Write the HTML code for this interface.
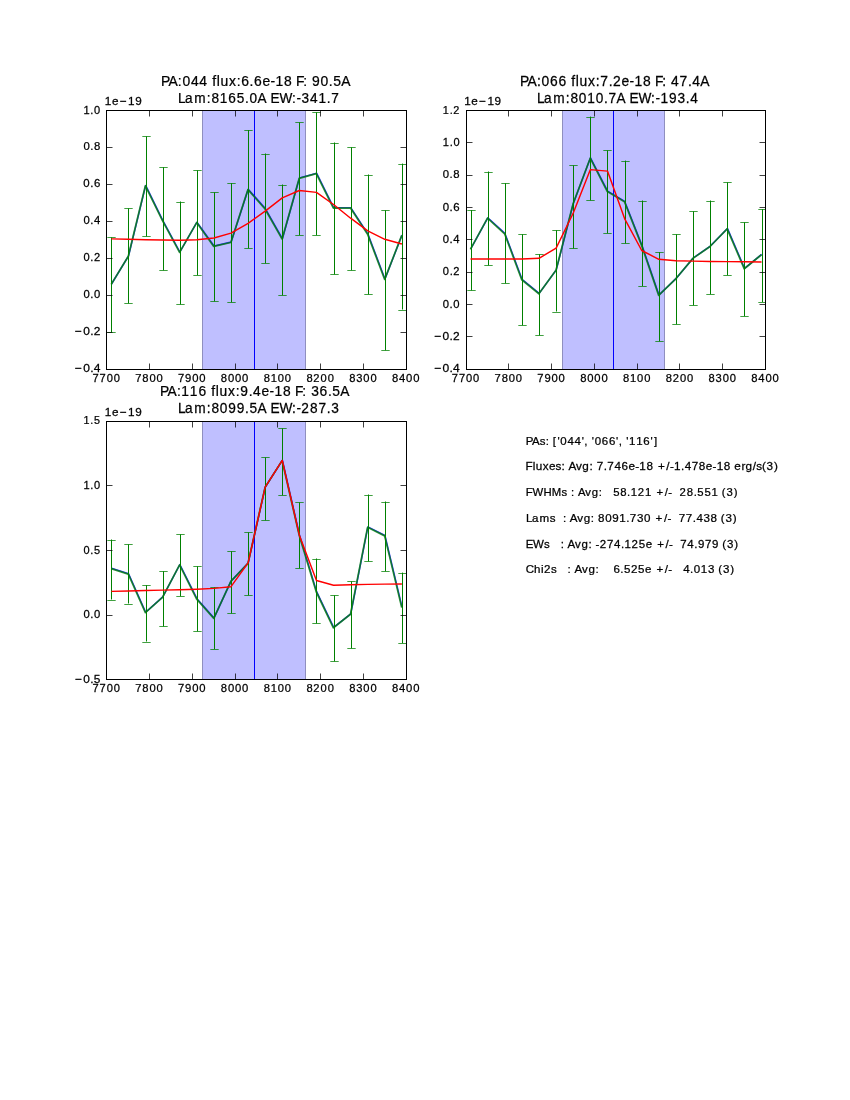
<!DOCTYPE html>
<html><head><meta charset="utf-8"><title>Spectral line fits</title>
<style>
html,body{margin:0;padding:0;background:#fff;width:850px;height:1100px;overflow:hidden;}
svg{display:block;will-change:transform;}
text{font-family:"Liberation Sans",sans-serif;fill:#000;font-kerning:none;white-space:pre;stroke:#000;stroke-width:0.25px;}
</style></head><body>
<svg width="850" height="1100" viewBox="0 0 850 1100">
<rect width="850" height="1100" fill="#fff"/>
<g id="ax1">
<clipPath id="cp1"><rect x="106.50" y="110.50" width="300.00" height="259.00"/></clipPath>
<g clip-path="url(#cp1)">
<rect x="202" y="110.5" width="104" height="259.0" fill="#bfbfff"/>
<path d="M202.5 110.5V369.5M305.5 110.5V369.5" stroke="#000" stroke-opacity="0.25" stroke-width="1" fill="none"/>
<path d="M254.5 110.5V369.5" stroke="#00f" stroke-width="1" fill="none"/>
<polyline points="111.51,284.00 128.60,255.80 145.69,185.40 162.78,220.30 179.88,252.00 196.97,222.20 214.06,246.00 231.15,242.10 248.24,189.20 265.33,208.60 282.42,238.70 299.51,177.90 316.61,173.20 333.70,207.70 350.79,207.70 367.88,233.80 384.97,279.00 402.06,235.00" fill="none" stroke="#0000ff" stroke-opacity="0.8" stroke-width="1.5" stroke-linejoin="round"/>
<polyline points="111.21,284.40 128.30,256.20 145.39,185.80 162.48,220.70 179.58,252.40 196.67,222.60 213.76,246.40 230.85,242.50 247.94,189.60 265.03,209.00 282.12,239.10 299.21,178.30 316.31,173.60 333.40,208.10 350.49,208.10 367.58,234.20 384.67,279.40 401.76,235.40" fill="none" stroke="#008000" stroke-opacity="0.78" stroke-width="1.75" stroke-linejoin="round"/>
<path d="M111.5 237.40V332.40M128.5 208.40V303.40M146.5 136.40V236.40M163.5 167.20V270.30M180.5 201.50V304.40M197.5 170.40V275.20M214.5 192.40V301.40M231.5 183.20V302.30M248.5 130.10V248.30M265.5 153.50V263.30M282.5 184.50V295.30M299.5 122.40V235.20M316.5 112.40V235.20M334.5 142.50V274.40M351.5 147.40V270.30M368.5 174.50V294.40M385.5 210.30V350.30M402.5 163.60V309.50" stroke="#008000" stroke-width="1" fill="none"/>
<path d="M107.30 237.50H115.70M107.30 332.50H115.70M124.30 208.50H132.70M124.30 303.50H132.70M142.30 136.50H150.70M142.30 236.50H150.70M159.30 167.50H167.70M159.30 270.50H167.70M176.30 202.50H184.70M176.30 304.50H184.70M193.30 170.50H201.70M193.30 275.50H201.70M210.30 192.50H218.70M210.30 301.50H218.70M227.30 183.50H235.70M227.30 302.50H235.70M244.30 130.50H252.70M244.30 248.50H252.70M261.30 154.50H269.70M261.30 263.50H269.70M278.30 185.50H286.70M278.30 295.50H286.70M295.30 122.50H303.70M295.30 235.50H303.70M312.30 112.50H320.70M312.30 235.50H320.70M330.30 143.50H338.70M330.30 274.50H338.70M347.30 147.50H355.70M347.30 270.50H355.70M364.30 175.50H372.70M364.30 294.50H372.70M381.30 210.50H389.70M381.30 350.50H389.70M398.30 164.50H406.70M398.30 310.50H406.70" stroke="#008000" stroke-width="0.75" fill="none"/>
<polyline points="111.36,238.90 128.45,239.30 145.54,239.70 162.63,240.00 179.73,240.20 196.82,239.70 213.91,238.00 231.00,233.10 248.09,223.30 265.18,211.10 282.27,197.90 299.36,190.50 316.46,192.40 333.55,204.50 350.64,218.20 367.73,230.80 384.82,239.30 401.91,244.00" fill="none" stroke="#ff0000" stroke-width="1.45" stroke-linejoin="round"/>
</g>
<rect x="106.5" y="110.5" width="300.0" height="259.0" fill="none" stroke="#000" stroke-width="1"/>
<path d="M106.5 369.5v-6.00M106.5 110.5v6.00M149.5 369.5v-6.00M149.5 110.5v6.00M192.5 369.5v-6.00M192.5 110.5v6.00M235.5 369.5v-6.00M235.5 110.5v6.00M277.5 369.5v-6.00M277.5 110.5v6.00M320.5 369.5v-6.00M320.5 110.5v6.00M363.5 369.5v-6.00M363.5 110.5v6.00M406.5 369.5v-6.00M406.5 110.5v6.00M106.5 110.5h6.00M406.5 110.5h-6.00M106.5 147.5h6.00M406.5 147.5h-6.00M106.5 184.5h6.00M406.5 184.5h-6.00M106.5 221.5h6.00M406.5 221.5h-6.00M106.5 258.5h6.00M406.5 258.5h-6.00M106.5 295.5h6.00M406.5 295.5h-6.00M106.5 332.5h6.00M406.5 332.5h-6.00M106.5 369.5h6.00M406.5 369.5h-6.00" stroke="#000" stroke-width="0.75" fill="none"/>
<text x="94.83 102.07 109.34 116.58" y="382.00" font-size="11.40" transform="scale(0.9757,1)" xml:space="preserve">7700</text>
<text x="137.52 144.73 151.92 159.10" y="382.00" font-size="11.40" transform="scale(0.9837,1)" xml:space="preserve">7800</text>
<text x="180.02 187.15 194.33 201.48" y="382.00" font-size="11.40" transform="scale(0.9890,1)" xml:space="preserve">7900</text>
<text x="223.32 230.47 237.62 244.77" y="382.00" font-size="11.40" transform="scale(0.9889,1)" xml:space="preserve">8000</text>
<text x="269.40 276.57 283.84 291.07" y="382.00" font-size="11.40" transform="scale(0.9786,1)" xml:space="preserve">8100</text>
<text x="312.58 319.64 327.00 334.22" y="382.00" font-size="11.40" transform="scale(0.9803,1)" xml:space="preserve">8200</text>
<text x="356.64 363.88 371.08 378.30" y="382.00" font-size="11.40" transform="scale(0.9791,1)" xml:space="preserve">8300</text>
<text x="396.36 403.50 410.65 417.80" y="382.00" font-size="11.40" transform="scale(0.9889,1)" xml:space="preserve">8400</text>
<text x="86.04 93.14 97.02" y="114.00" font-size="11.40" transform="scale(0.9697,1)" xml:space="preserve">1.0</text>
<text x="83.96 90.87 94.63" y="150.00" font-size="11.40" transform="scale(0.9934,1)" xml:space="preserve">0.8</text>
<text x="83.04 89.90 93.60" y="187.00" font-size="11.40" transform="scale(1.0040,1)" xml:space="preserve">0.6</text>
<text x="84.38 91.33 95.10" y="224.00" font-size="11.40" transform="scale(0.9886,1)" xml:space="preserve">0.4</text>
<text x="85.80 92.83 96.54" y="261.00" font-size="11.40" transform="scale(0.9729,1)" xml:space="preserve">0.2</text>
<text x="84.38 91.33 95.10" y="298.00" font-size="11.40" transform="scale(0.9886,1)" xml:space="preserve">0.0</text>
<text x="71.48 79.46 86.10 89.44" y="335.00" font-size="11.40" transform="scale(1.0475,1)" xml:space="preserve">−0.2</text>
<text x="70.88 78.79 85.40 88.83" y="372.00" font-size="11.40" transform="scale(1.0560,1)" xml:space="preserve">−0.4</text>
<text x="102.01 108.86 116.53 124.60 131.50" y="105.00" font-size="11.40" transform="scale(1.0278,1)" xml:space="preserve">1e−19</text>
<text x="163.41 171.02 180.43 185.04 193.64 202.25 210.47 215.37 219.84 223.62 232.31 240.18 244.79 253.20 257.70 266.19 274.33 279.42 288.10 296.32 300.18 307.67 311.90 316.54 325.18 333.59 338.03 346.23" y="86.00" font-size="14.10" transform="scale(0.9858,1)" xml:space="preserve">PA:044 flux:6.6e-18 F: 90.5A</text>
<text x="184.58 191.85 201.41 214.35 219.10 227.82 236.68 245.41 254.02 258.65 266.99 276.42 280.43 289.71 302.76 307.19 312.51 321.28 330.01 338.62 343.23" y="103.00" font-size="14.10" transform="scale(0.9649,1)" xml:space="preserve">Lam:8165.0A EW:-341.7</text>
</g>
<g id="ax2">
<clipPath id="cp2"><rect x="466.50" y="110.50" width="299.00" height="259.00"/></clipPath>
<g clip-path="url(#cp2)">
<rect x="562" y="110.5" width="103" height="259.0" fill="#bfbfff"/>
<path d="M562.5 110.5V369.5M664.5 110.5V369.5" stroke="#000" stroke-opacity="0.25" stroke-width="1" fill="none"/>
<path d="M613.5 110.5V369.5" stroke="#00f" stroke-width="1" fill="none"/>
<polyline points="470.69,249.00 487.81,217.80 504.93,233.40 522.04,279.30 539.16,293.40 556.28,269.90 573.40,203.30 590.51,157.80 607.63,191.20 624.75,201.40 641.87,245.00 658.98,295.00 676.10,278.40 693.22,258.00 710.34,246.10 727.45,228.40 744.57,268.40 761.69,254.30" fill="none" stroke="#0000ff" stroke-opacity="0.8" stroke-width="1.5" stroke-linejoin="round"/>
<polyline points="470.39,249.40 487.51,218.20 504.63,233.80 521.74,279.70 538.86,293.80 555.98,270.30 573.10,203.70 590.21,158.20 607.33,191.60 624.45,201.80 641.57,245.40 658.68,295.40 675.80,278.80 692.92,258.40 710.04,246.50 727.15,228.80 744.27,268.80 761.39,254.70" fill="none" stroke="#008000" stroke-opacity="0.78" stroke-width="1.75" stroke-linejoin="round"/>
<path d="M471.5 210.10V290.40M488.5 171.50V265.40M505.5 183.20V283.30M522.5 234.40V325.30M539.5 254.30V335.40M556.5 230.30V311.50M573.5 165.40V248.40M590.5 116.60V200.40M607.5 150.40V233.30M625.5 160.60V243.40M642.5 200.50V286.10M659.5 252.10V341.30M676.5 234.40V324.30M693.5 211.40V305.30M710.5 200.50V294.20M727.5 182.40V275.20M744.5 222.40V316.20M762.5 209.20V302.10" stroke="#008000" stroke-width="1" fill="none"/>
<path d="M467.30 210.50H475.70M467.30 290.50H475.70M484.30 172.50H492.70M484.30 265.50H492.70M501.30 183.50H509.70M501.30 283.50H509.70M518.30 234.50H526.70M518.30 325.50H526.70M535.30 254.50H543.70M535.30 335.50H543.70M552.30 230.50H560.70M552.30 312.50H560.70M569.30 165.50H577.70M569.30 248.50H577.70M586.30 117.50H594.70M586.30 200.50H594.70M603.30 150.50H611.70M603.30 233.50H611.70M621.30 161.50H629.70M621.30 243.50H629.70M638.30 201.50H646.70M638.30 286.50H646.70M655.30 252.50H663.70M655.30 341.50H663.70M672.30 234.50H680.70M672.30 324.50H680.70M689.30 211.50H697.70M689.30 305.50H697.70M706.30 201.50H714.70M706.30 294.50H714.70M723.30 182.50H731.70M723.30 275.50H731.70M740.30 222.50H748.70M740.30 316.50H748.70M758.30 209.50H766.70M758.30 302.50H766.70" stroke="#008000" stroke-width="0.75" fill="none"/>
<polyline points="470.54,259.00 487.66,259.00 504.78,259.00 521.89,259.00 539.01,258.30 556.13,248.10 573.25,213.00 590.36,169.60 607.48,171.10 624.60,218.60 641.72,250.50 658.83,259.30 675.95,260.70 693.07,261.10 710.19,261.50 727.30,261.60 744.42,261.80 761.54,262.00" fill="none" stroke="#ff0000" stroke-width="1.45" stroke-linejoin="round"/>
</g>
<rect x="466.5" y="110.5" width="299.0" height="259.0" fill="none" stroke="#000" stroke-width="1"/>
<path d="M466.5 369.5v-6.00M466.5 110.5v6.00M508.5 369.5v-6.00M508.5 110.5v6.00M551.5 369.5v-6.00M551.5 110.5v6.00M594.5 369.5v-6.00M594.5 110.5v6.00M637.5 369.5v-6.00M637.5 110.5v6.00M679.5 369.5v-6.00M679.5 110.5v6.00M722.5 369.5v-6.00M722.5 110.5v6.00M765.5 369.5v-6.00M765.5 110.5v6.00M466.5 110.5h6.00M765.5 110.5h-6.00M466.5 142.5h6.00M765.5 142.5h-6.00M466.5 175.5h6.00M765.5 175.5h-6.00M466.5 207.5h6.00M765.5 207.5h-6.00M466.5 239.5h6.00M765.5 239.5h-6.00M466.5 272.5h6.00M765.5 272.5h-6.00M466.5 304.5h6.00M765.5 304.5h-6.00M466.5 336.5h6.00M765.5 336.5h-6.00M466.5 369.5h6.00M765.5 369.5h-6.00" stroke="#000" stroke-width="0.75" fill="none"/>
<text x="463.08 470.33 477.59 484.84" y="382.00" font-size="11.40" transform="scale(0.9757,1)" xml:space="preserve">7700</text>
<text x="502.80 510.01 517.19 524.38" y="382.00" font-size="11.40" transform="scale(0.9837,1)" xml:space="preserve">7800</text>
<text x="543.33 550.47 557.65 564.80" y="382.00" font-size="11.40" transform="scale(0.9890,1)" xml:space="preserve">7900</text>
<text x="586.69 593.84 600.99 608.14" y="382.00" font-size="11.40" transform="scale(0.9889,1)" xml:space="preserve">8000</text>
<text x="636.56 643.73 651.01 658.23" y="382.00" font-size="11.40" transform="scale(0.9786,1)" xml:space="preserve">8100</text>
<text x="679.14 686.20 693.56 700.77" y="382.00" font-size="11.40" transform="scale(0.9803,1)" xml:space="preserve">8200</text>
<text x="723.63 730.86 738.07 745.29" y="382.00" font-size="11.40" transform="scale(0.9791,1)" xml:space="preserve">8300</text>
<text x="759.72 766.87 774.02 781.17" y="382.00" font-size="11.40" transform="scale(0.9889,1)" xml:space="preserve">8400</text>
<text x="464.74 471.94 475.77" y="114.00" font-size="11.40" transform="scale(0.9528,1)" xml:space="preserve">1.2</text>
<text x="456.59 463.69 467.57" y="146.00" font-size="11.40" transform="scale(0.9697,1)" xml:space="preserve">1.0</text>
<text x="445.65 452.57 456.33" y="178.00" font-size="11.40" transform="scale(0.9934,1)" xml:space="preserve">0.8</text>
<text x="440.92 447.78 451.48" y="211.00" font-size="11.40" transform="scale(1.0040,1)" xml:space="preserve">0.6</text>
<text x="447.85 454.79 458.57" y="243.00" font-size="11.40" transform="scale(0.9886,1)" xml:space="preserve">0.4</text>
<text x="455.13 462.16 465.88" y="275.00" font-size="11.40" transform="scale(0.9729,1)" xml:space="preserve">0.2</text>
<text x="447.85 454.79 458.57" y="308.00" font-size="11.40" transform="scale(0.9886,1)" xml:space="preserve">0.0</text>
<text x="414.52 422.49 429.14 432.47" y="340.00" font-size="11.40" transform="scale(1.0475,1)" xml:space="preserve">−0.2</text>
<text x="411.15 419.06 425.66 429.10" y="372.00" font-size="11.40" transform="scale(1.0560,1)" xml:space="preserve">−0.4</text>
<text x="451.62 458.47 466.14 474.21 481.11" y="105.00" font-size="11.40" transform="scale(1.0278,1)" xml:space="preserve">1e−19</text>
<text x="529.01 536.64 546.07 550.70 559.32 567.95 576.19 581.10 585.59 589.38 598.09 605.98 610.58 619.04 623.37 632.06 640.22 645.33 654.03 662.27 666.15 673.65 677.89 682.59 691.19 699.64 704.15 712.32" y="86.00" font-size="14.10" transform="scale(0.9832,1)" xml:space="preserve">PA:066 flux:7.2e-18 F: 47.4A</text>
<text x="554.89 562.14 571.67 584.58 589.31 598.07 606.76 615.59 624.12 628.71 637.04 646.46 650.44 659.69 672.71 677.13 682.35 691.13 699.96 708.47 713.08" y="103.00" font-size="14.10" transform="scale(0.9679,1)" xml:space="preserve">Lam:8010.7A EW:-193.4</text>
</g>
<g id="ax3">
<clipPath id="cp3"><rect x="106.50" y="421.50" width="300.00" height="258.00"/></clipPath>
<g clip-path="url(#cp3)">
<rect x="202" y="421.5" width="104" height="258.0" fill="#bfbfff"/>
<path d="M202.5 421.5V679.5M305.5 421.5V679.5" stroke="#000" stroke-opacity="0.25" stroke-width="1" fill="none"/>
<path d="M254.5 421.5V679.5" stroke="#00f" stroke-width="1" fill="none"/>
<polyline points="111.51,568.20 128.60,573.70 145.69,612.30 162.78,596.90 179.88,564.50 196.97,598.70 214.06,617.90 231.15,580.90 248.24,563.00 265.33,487.00 282.42,460.20 299.51,535.00 316.61,591.60 333.70,627.40 350.79,613.80 367.88,526.90 384.97,535.50 402.06,607.20" fill="none" stroke="#0000ff" stroke-opacity="0.8" stroke-width="1.5" stroke-linejoin="round"/>
<polyline points="111.21,568.60 128.30,574.10 145.39,612.70 162.48,597.30 179.58,564.90 196.67,599.10 213.76,618.30 230.85,581.30 247.94,563.40 265.03,487.40 282.12,460.60 299.21,535.40 316.31,592.00 333.40,627.80 350.49,614.20 367.58,527.30 384.67,535.90 401.76,607.60" fill="none" stroke="#008000" stroke-opacity="0.78" stroke-width="1.75" stroke-linejoin="round"/>
<path d="M111.5 539.50V599.50M128.5 544.40V603.50M146.5 585.20V641.50M163.5 571.30V626.40M180.5 534.40V596.30M197.5 566.40V631.30M214.5 587.30V649.20M231.5 551.30V613.40M248.5 532.40V595.40M265.5 457.40V520.30M282.5 428.40V495.30M299.5 502.40V568.30M316.5 558.50V623.40M334.5 595.40V661.40M351.5 581.40V648.30M368.5 494.50V561.30M385.5 501.50V571.30M402.5 572.60V643.20" stroke="#008000" stroke-width="1" fill="none"/>
<path d="M107.30 540.50H115.70M107.30 600.50H115.70M124.30 544.50H132.70M124.30 604.50H132.70M142.30 585.50H150.70M142.30 642.50H150.70M159.30 571.50H167.70M159.30 626.50H167.70M176.30 534.50H184.70M176.30 596.50H184.70M193.30 566.50H201.70M193.30 631.50H201.70M210.30 587.50H218.70M210.30 649.50H218.70M227.30 551.50H235.70M227.30 613.50H235.70M244.30 532.50H252.70M244.30 595.50H252.70M261.30 457.50H269.70M261.30 520.50H269.70M278.30 428.50H286.70M278.30 495.50H286.70M295.30 502.50H303.70M295.30 568.50H303.70M312.30 559.50H320.70M312.30 623.50H320.70M330.30 595.50H338.70M330.30 661.50H338.70M347.30 581.50H355.70M347.30 648.50H355.70M364.30 495.50H372.70M364.30 561.50H372.70M381.30 502.50H389.70M381.30 571.50H389.70M398.30 573.50H406.70M398.30 643.50H406.70" stroke="#008000" stroke-width="0.75" fill="none"/>
<polyline points="111.36,591.40 128.45,591.00 145.54,590.50 162.63,590.10 179.73,589.70 196.82,589.20 213.91,588.40 231.00,586.70 248.09,562.80 265.18,487.20 282.27,460.40 299.36,535.20 316.46,580.50 333.55,585.20 350.64,584.80 367.73,584.40 384.82,584.10 401.91,583.90" fill="none" stroke="#ff0000" stroke-width="1.45" stroke-linejoin="round"/>
</g>
<rect x="106.5" y="421.5" width="300.0" height="258.0" fill="none" stroke="#000" stroke-width="1"/>
<path d="M106.5 679.5v-6.00M106.5 421.5v6.00M149.5 679.5v-6.00M149.5 421.5v6.00M192.5 679.5v-6.00M192.5 421.5v6.00M235.5 679.5v-6.00M235.5 421.5v6.00M277.5 679.5v-6.00M277.5 421.5v6.00M320.5 679.5v-6.00M320.5 421.5v6.00M363.5 679.5v-6.00M363.5 421.5v6.00M406.5 679.5v-6.00M406.5 421.5v6.00M106.5 421.5h6.00M406.5 421.5h-6.00M106.5 485.5h6.00M406.5 485.5h-6.00M106.5 550.5h6.00M406.5 550.5h-6.00M106.5 615.5h6.00M406.5 615.5h-6.00M106.5 679.5h6.00M406.5 679.5h-6.00" stroke="#000" stroke-width="0.75" fill="none"/>
<text x="94.83 102.07 109.34 116.58" y="692.00" font-size="11.40" transform="scale(0.9757,1)" xml:space="preserve">7700</text>
<text x="137.52 144.73 151.92 159.10" y="692.00" font-size="11.40" transform="scale(0.9837,1)" xml:space="preserve">7800</text>
<text x="180.02 187.15 194.33 201.48" y="692.00" font-size="11.40" transform="scale(0.9890,1)" xml:space="preserve">7900</text>
<text x="223.32 230.47 237.62 244.77" y="692.00" font-size="11.40" transform="scale(0.9889,1)" xml:space="preserve">8000</text>
<text x="269.40 276.57 283.84 291.07" y="692.00" font-size="11.40" transform="scale(0.9786,1)" xml:space="preserve">8100</text>
<text x="312.58 319.64 327.00 334.22" y="692.00" font-size="11.40" transform="scale(0.9803,1)" xml:space="preserve">8200</text>
<text x="356.64 363.88 371.08 378.30" y="692.00" font-size="11.40" transform="scale(0.9791,1)" xml:space="preserve">8300</text>
<text x="396.36 403.50 410.65 417.80" y="692.00" font-size="11.40" transform="scale(0.9889,1)" xml:space="preserve">8400</text>
<text x="88.53 95.78 99.77" y="424.00" font-size="11.40" transform="scale(0.9433,1)" xml:space="preserve">1.5</text>
<text x="86.04 93.14 97.02" y="489.00" font-size="11.40" transform="scale(0.9697,1)" xml:space="preserve">1.0</text>
<text x="86.66 93.75 97.62" y="554.00" font-size="11.40" transform="scale(0.9635,1)" xml:space="preserve">0.5</text>
<text x="84.38 91.33 95.10" y="618.00" font-size="11.40" transform="scale(0.9886,1)" xml:space="preserve">0.0</text>
<text x="72.01 80.04 86.72 90.19" y="683.00" font-size="11.40" transform="scale(1.0402,1)" xml:space="preserve">−0.5</text>
<text x="102.01 108.86 116.53 124.60 131.50" y="416.00" font-size="11.40" transform="scale(1.0278,1)" xml:space="preserve">1e−19</text>
<text x="163.46 171.12 180.58 185.16 193.82 202.55 210.80 215.73 220.24 224.05 232.79 240.71 245.32 253.81 258.34 266.89 275.07 280.21 288.94 297.19 301.10 308.63 312.87 317.62 326.26 334.71 339.19 347.45" y="396.00" font-size="14.10" transform="scale(0.9796,1)" xml:space="preserve">PA:116 flux:9.4e-18 F: 36.5A</text>
<text x="183.63 190.87 200.37 213.26 217.98 226.72 235.42 244.17 252.73 257.27 265.62 275.03 279.00 288.22 301.23 305.63 310.72 319.65 328.37 336.91 341.53" y="413.00" font-size="14.10" transform="scale(0.9698,1)" xml:space="preserve">Lam:8099.5A EW:-287.3</text>
</g>
<text x="521.95 528.15 535.83 541.75 545.19 548.84 553.43 556.37 563.39 570.40 577.52 580.18 583.63 587.56 590.50 597.52 604.54 611.65 614.31 617.76 621.69 624.58 631.59 638.67 645.78 649.37" y="445.00" font-size="11.40" transform="scale(1.0072,1)" xml:space="preserve">PAs: [&#x27;044&#x27;, &#x27;066&#x27;, &#x27;116&#x27;]</text>
<text x="511.28 518.12 521.12 528.07 533.98 540.50 546.32 549.73 553.05 560.27 566.51 573.42 576.82 580.50 587.26 590.81 597.71 604.58 611.37 617.89 621.95 628.88 635.49 640.13 648.22 651.68 655.73 662.53 666.10 672.96 679.85 686.64 693.17 697.22 704.16 710.77 714.38 721.38 725.30 732.20 735.65 741.16 745.73 752.83" y="470.00" font-size="11.40" transform="scale(1.0280,1)" xml:space="preserve">Fluxes: Avg: 7.746e-18 +/-1.478e-18 erg/s(3)</text>
<text x="529.09 535.95 546.94 555.34 565.05 570.74 574.60 578.06 581.63 589.07 595.53 602.62 606.09 609.64 613.20 617.09 624.25 631.17 634.86 641.88 649.09 655.87 660.79 669.10 672.68 676.60 680.15 683.94 691.21 698.12 701.83 708.94 716.05 722.83 726.38 731.15 738.43" y="496.00" font-size="11.40" transform="scale(0.9936,1)" xml:space="preserve">FWHMs : Avg:   58.121 +/-  28.551 (3)</text>
<text x="516.18 521.92 529.43 539.53 545.14 548.61 552.33 555.74 559.13 566.40 572.70 579.65 583.07 586.83 593.77 600.67 607.58 614.42 618.01 624.99 631.91 638.55 643.25 651.40 654.89 658.75 662.22 665.96 672.89 679.70 683.31 690.26 697.18 703.82 707.23 711.85 718.99" y="522.00" font-size="11.40" transform="scale(1.0192,1)" xml:space="preserve">Lams  : Avg: 8091.730 +/-  77.438 (3)</text>
<text x="521.43 528.81 539.74 545.38 548.89 552.39 556.17 559.61 563.07 570.41 576.78 583.80 587.23 590.83 594.90 602.04 609.07 615.91 619.53 626.45 633.57 640.53 647.07 651.86 660.08 663.61 667.49 671.00 674.81 681.84 688.69 692.33 699.35 706.35 713.06 716.53 721.21 728.42" y="548.00" font-size="11.40" transform="scale(1.0081,1)" xml:space="preserve">EWs   : Avg: -274.125e +/-  74.979 (3)</text>
<text x="519.99 528.33 535.24 538.20 545.11 550.74 554.24 557.73 561.49 564.93 568.37 575.70 582.05 589.04 592.48 595.97 599.46 602.96 606.78 613.60 617.22 624.11 631.20 638.15 644.68 649.45 657.65 661.17 665.05 668.54 672.03 675.85 682.68 686.34 693.27 700.34 706.99 710.44 715.11 722.30" y="573.00" font-size="11.40" transform="scale(1.0109,1)" xml:space="preserve">Chi2s   : Avg:    6.525e +/-   4.013 (3)</text>
</svg>
</body></html>
